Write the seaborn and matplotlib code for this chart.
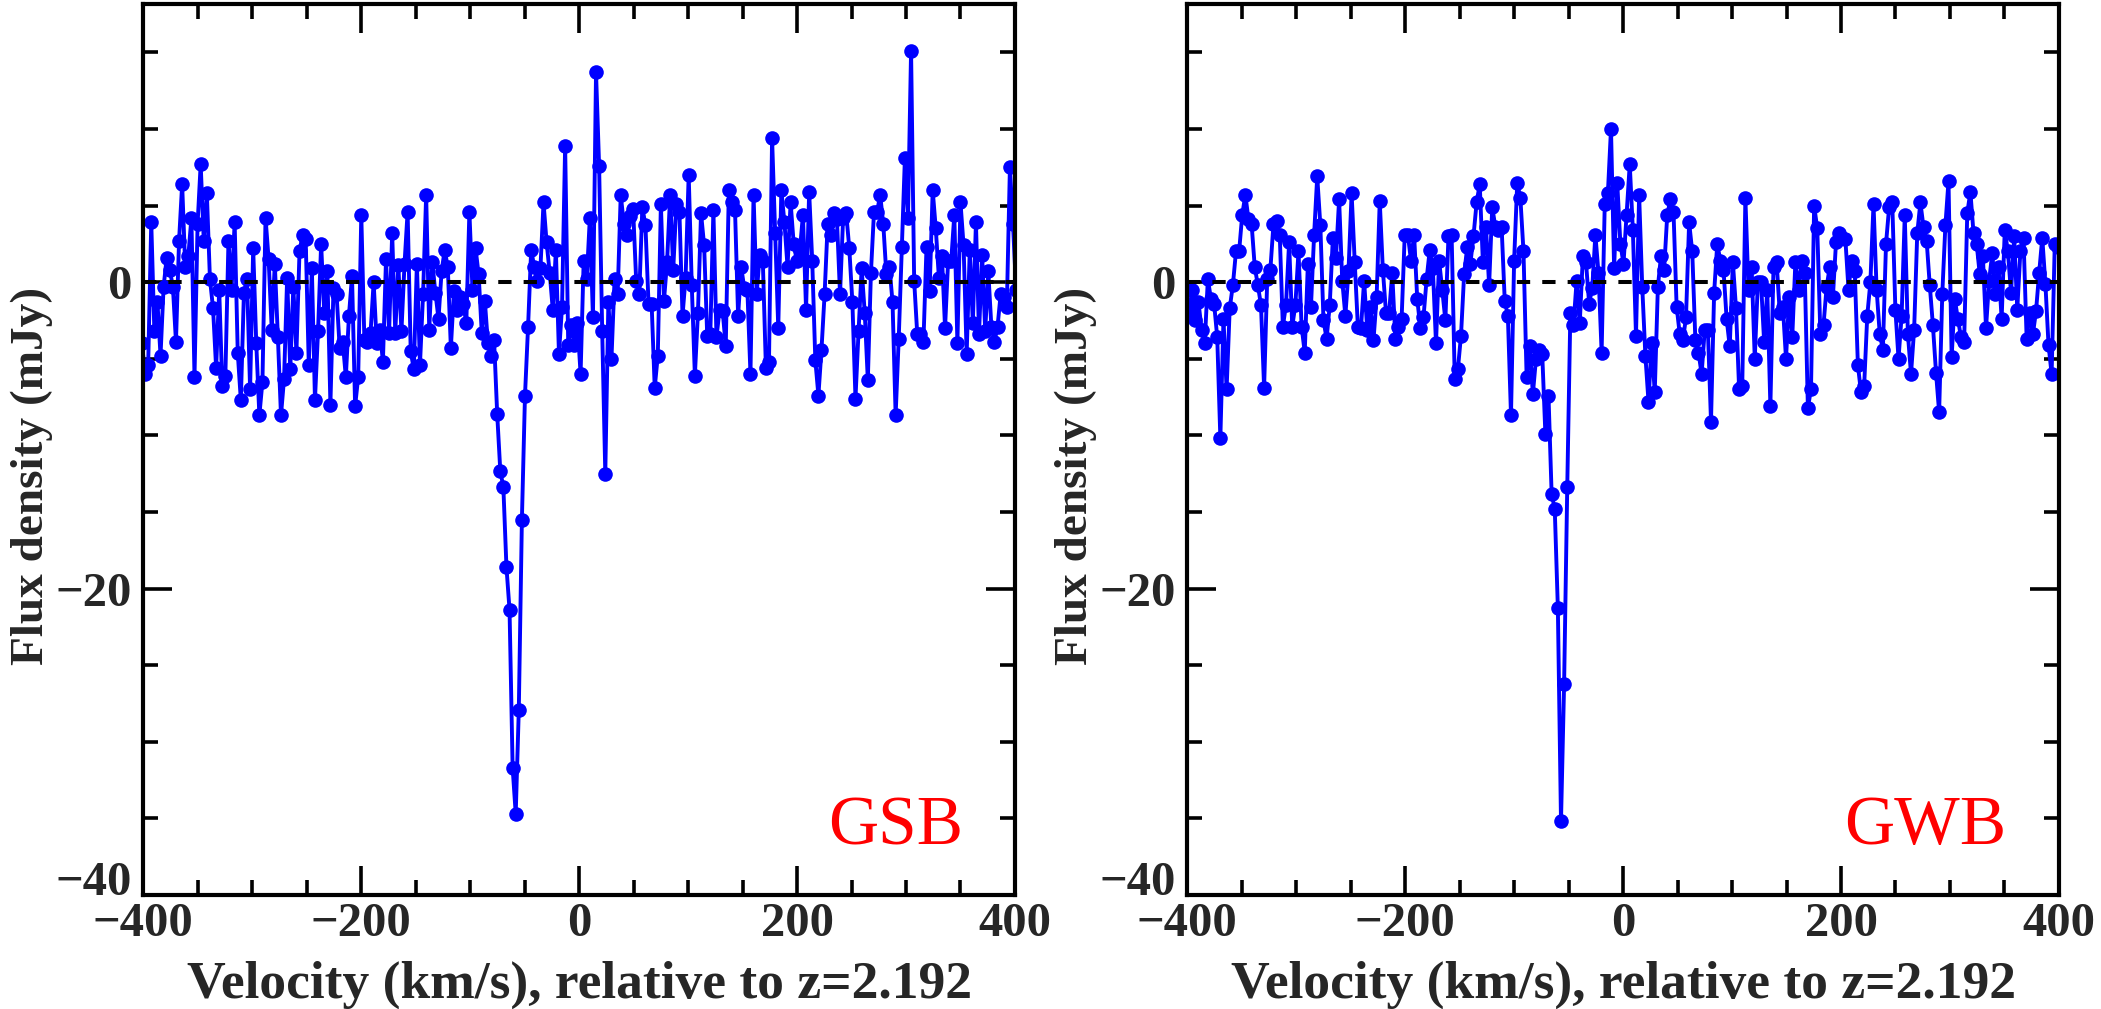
import numpy as np
import matplotlib
matplotlib.use("Agg")
import matplotlib.pyplot as plt
from matplotlib.ticker import MultipleLocator
import seaborn as sns

# Flux density (mJy) per channel (left to right)
gsb_flux = [
    -4.0, -6.0, -5.4, 3.9, -3.2, -1.3, -4.8, -0.3, 1.6, 0.8,
    -0.3, -3.9, 2.7, 6.4, 1.0, 1.7, 4.2, -6.2, 3.8, 7.7,
    2.7, 5.8, 0.2, -1.7, -5.6, -0.5, -6.8, -6.1, 2.7, -0.5,
    3.9, -4.6, -7.7, -0.7, 0.2, -7.0, 2.2, -4.0, -8.7, -6.5,
    4.2, 1.5, -3.1, 1.2, -3.6, -8.7, -6.3, 0.3, -5.7, -0.3,
    -4.6, 2.0, 3.1, 2.8, -5.4, 0.9, -7.7, -3.2, 2.5, -2.0,
    0.7, -8.0, -0.4, -0.8, -4.3, -3.9, -6.2, -2.2, 0.4, -8.1,
    -6.2, 4.4, -3.8,
    -3.9, -3.3, 0.0, -4.0, -3.1, -5.2, 1.5, -3.3, 3.2, -3.3,
    1.1, -3.2, 1.2, 4.6, -4.5, -5.7, 1.2, -5.4, -0.8, 5.7,
    -3.1, 1.3, -0.7, -2.4, 0.7, 2.1, 1.0, -4.3, -0.6, -1.8,
    -1.0, -1.4, -2.7, 4.6, -0.5, 2.2, 0.5, -3.3, -1.2, -4.0,
    -4.8, -3.8,
    -8.6, -12.3, -13.4, -18.6, -21.4, -31.7, -34.7, -27.9, -15.5, -7.4,
    -2.9, 2.1, 1.0, 0.1, 0.9, 5.2, 2.6, 0.6, -1.8, 2.1,
    -4.7, -1.6, 8.9, -4.1, -2.8, -4.1, -2.7, -6.0, 1.4, 0.2,
    4.2, -2.3,
    13.7, 7.6, -3.2, -12.5, -1.3, -5.0, 0.2, -0.8, 5.7, 3.8,
    3.1, 4.3, 4.8, 0.1, -0.8, 4.9, 3.7, -1.4, -1.4, -6.9,
    -4.8, 5.1, -1.2, 1.3, 5.7, 0.8, 5.1, 4.6, -2.2, 0.3,
    7.0, -0.2, -6.1, -2.0, 4.5, 2.4, -3.5, -3.4, 4.7, -3.6,
    -1.8, -1.9, -4.2, 6.0, 5.2, 4.7, -2.2, 1.0, -0.4, -0.5,
    -6.0, 5.7, -0.8, 1.8, 1.4, -5.6, -5.2, 9.4, 3.2, -3.0,
    6.0, 3.9, 1.0, 5.2, 2.5, 1.4, 2.1, 4.4, -1.8, 5.9,
    1.4, -5.1, -7.4, -4.4, -0.8, 3.8, 3.1, 4.5, 4.1, -0.8,
    4.2, 4.5, 2.2, -1.3, -7.6, -3.2, 0.9, -2.0, -6.4, 0.6,
    4.6, 4.6, 5.7, 3.8, 0.5, 1.0, -1.3, -8.7, -3.7, 2.3,
    8.1, 4.2, 15.1, 0.1, -3.4, -3.4, -3.9, 2.3, -0.6, 6.0,
    3.5, 0.3, 1.7, -3.0, 1.4, 1.4, 4.4, -4.0, 5.2, 2.4,
    -4.7, 2.1, -2.7, 3.9, -3.4, 1.8, -3.2, 0.7, -2.9, -3.9,
    -2.9, -0.8, -1.0, -1.6, 7.5, 3.8, -0.5,
]

gwb_flux = [
    -0.5, -1.9, -0.5, -2.5, -1.3, -3.1, -4.0, 0.2, -1.1, -1.4,
    -3.6, -10.2, -2.4, -7.0, -1.7, -0.2, 2.0, 2.0, 4.4, 5.7,
    4.1, 3.8, 1.0, -0.2, -1.5, -6.9, 0.2, 0.8, 3.8, 4.0,
    3.1, -2.9, -1.5, 2.6, -2.9, -1.5, 2.0, -2.9, -4.6, 1.2,
    -1.6, 3.1, 6.9, 3.7, -2.5, -3.7, -1.5, 2.9, 1.6, 5.4,
    0.1, -2.2, 0.7, 5.8, 1.3, -2.9, -3.0, 0.1, -3.1, -1.6,
    -3.8, -1.0, 5.3, 0.8, -2.0, -2.0, 0.6, -3.7, -2.9, -2.4,
    3.1, 3.1, 1.4,
    3.1, -1.1, -3.0, -2.3, 0.2, 2.1, 0.9, -4.0, 1.4, -0.5,
    -2.5, 3.0, 3.1, -6.3, -5.7, -3.5, 0.5, 2.3, 1.2, 3.0,
    5.2, 6.4, 1.3, 3.6, -0.2, 4.9, 3.6, 3.4, 3.6, -1.2,
    -2.2, -8.7, 1.4, 6.5, 5.5, 2.0, -6.2, -4.2, -7.3, -5.0,
    -4.4, -4.7, -9.9, -7.4,
    -13.8, -14.8, -21.3, -35.2, -26.2, -13.4,
    -2.0, -2.8, 0.1, -2.7, 1.7, 1.3, -1.4, -0.4, 3.1, 0.6,
    -4.6, 5.1, 5.8, 10.0, 0.9, 6.5, 2.5, 1.2, 4.4, 7.7,
    3.4, -3.5, 5.7,
    -0.3, -4.8, -7.8, -4.0, -7.2, -0.3, 1.7, 0.8, 4.4, 5.4,
    4.6, -1.6, -3.4, -3.8, -2.3, 3.9, 2.0, -3.8, -4.6, -6.0,
    -3.1, -3.1, -9.1, -0.7, 2.5, 1.4, 0.8, -2.4, -4.2, 1.3,
    -1.7, -7.0, -6.8, 5.5, -0.5, 1.0, -5.0, 0.0, 0.0, -3.9,
    -0.5, -8.1, 1.0, 1.3, -2.0, -1.6, -5.0, -1.0, -3.6, 1.3,
    -0.5, 1.4, 0.6, -8.2, -7.0, 5.0, 3.5, -3.4, -2.8, -0.3,
    1.0, -1.0, 2.6, 3.2, 2.9, 2.8, -0.5,
    1.4, 0.7, -5.4, -7.2, -6.8, -2.2, 0.0, 5.1, -0.5, -3.4,
    -4.4, 2.5, 4.9, 5.2, -1.8, -5.0, -2.2, 4.4, -3.4, -6.0,
    -3.1, 3.2, 5.2, 3.6, 2.7, -0.2, -2.8, -5.9, -8.5, -0.8,
    3.7, 6.6, -4.9, -1.1, -2.4, -3.6, -3.9, 4.5, 5.9, 3.2,
    2.5, 0.5, 1.7, -3.0, 0.1, 1.9, -0.8, 1.0, -2.4, 3.4,
    2.0, -0.7, 3.0, -1.8, 2.0, 2.9, -3.7, -2.0, -3.4, -1.9,
    0.6, 2.9, -0.1, -4.1, -6.0, 2.5, 2.3,
]

# first and last channel velocities (km/s)
gsb_vrange = (-401, 401)
gwb_vrange = (-401, 399)

panel_names = ["GSB", "GWB"]
x_ticks = [-400, -200, 0, 200, 400]
y_ticks = [-40, -20, 0]


def draw_panel(ax, flux, vrange, name):
    vel = np.linspace(vrange[0], vrange[1], len(flux))
    sns.lineplot(x=vel, y=flux, ax=ax, color="#0000ff", linewidth=2.8,
                 marker="o", markersize=10.5, markeredgewidth=0,
                 sort=False, estimator=None, zorder=2)
    ax.axhline(0, color="black", linewidth=2.9, linestyle=(0, (3.3, 3.0)), zorder=3)

    ax.set_xlim(-400, 400)
    ax.set_ylim(-40, 18.15)
    ax.set_xticks(x_ticks)
    ax.set_yticks(y_ticks)
    ax.xaxis.set_minor_locator(MultipleLocator(50))
    ax.yaxis.set_minor_locator(MultipleLocator(5))
    ax.tick_params(which="both", direction="in", top=True, right=True,
                   width=2.6, color="black", labelsize=35)
    ax.tick_params(which="major", length=21)
    ax.tick_params(axis="x", which="major", pad=5)
    ax.tick_params(axis="y", which="major", pad=8)
    ax.tick_params(which="minor", length=11)
    for lab in ax.get_xticklabels() + ax.get_yticklabels():
        lab.set_fontweight("bold")
    # the lowest y label sits on its tick, clear of the -400 below it
    ax.get_yticklabels()[0].set_va("baseline")
    for sp in ax.spines.values():
        sp.set_linewidth(3)
        sp.set_color("black")

    ax.set_xlabel("Velocity (km/s), relative to z=2.192", fontsize=38.5,
                  fontweight="bold", va="center")
    ax.set_ylabel("Flux density (mJy)", fontsize=34, fontweight="bold", va="center")
    ax.xaxis.set_label_coords(0.5, -0.101)
    ax.yaxis.set_label_coords(-0.128, 0.47)

    ax.text(352, -36.7, name, color="#ff0000", fontsize=50, ha="right", va="baseline")


sns.set_style("ticks")
plt.rcParams["font.family"] = ["Liberation Serif", "DejaVu Serif"]

fig = plt.figure(figsize=(21.01, 10.09), dpi=100)
ax1 = fig.add_axes([0.0681, 0.1130, 0.4150, 0.8830])
ax2 = fig.add_axes([0.5650, 0.1130, 0.4150, 0.8830])

draw_panel(ax1, gsb_flux, gsb_vrange, panel_names[0])
draw_panel(ax2, gwb_flux, gwb_vrange, panel_names[1])

fig.savefig("out.png", dpi=100)
